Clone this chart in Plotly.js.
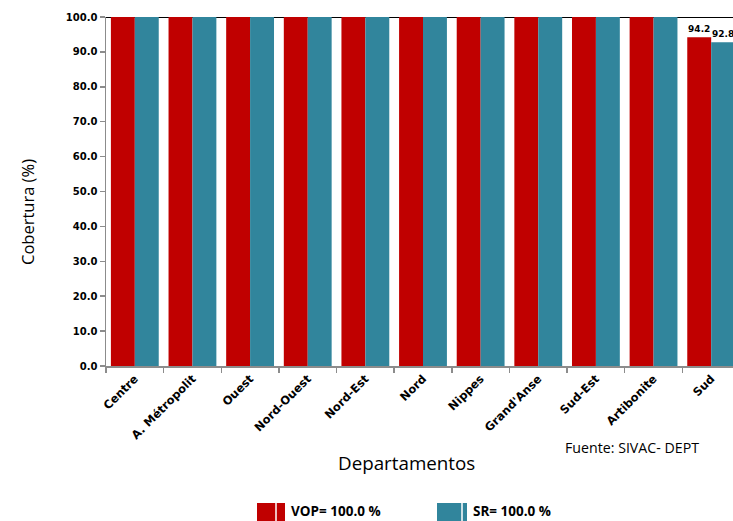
<!DOCTYPE html>
<html><head><meta charset="utf-8">
<script src="https://cdn.plot.ly/plotly-3.0.1.min.js"></script>
<style>html,body{margin:0;padding:0;overflow:hidden;background:#fff}</style>
</head><body>
<div id="chart" style="width:742px;height:521px"></div>
<script>
const departamentos = ["Centre","A. Métropolit","Ouest","Nord-Ouest","Nord-Est","Nord","Nippes","Grand'Anse","Sud-Est","Artibonite","Sud"];
const vop = [100.0,100.0,100.0,100.0,100.0,100.0,100.0,100.0,100.0,100.0,94.2];
const sr  = [100.0,100.0,100.0,100.0,100.0,100.0,100.0,100.0,100.0,100.0,92.8];
const yTicks = [0,10,20,30,40,50,60,70,80,90,100];
const serieNames = ["VOP= 100.0 %","SR= 100.0 %"];
const colors = ["#C00000","#31859C"];

const W = 742, H = 521, ml = 106, mr = 2, mt = 17, mb = 155;
const pw = W - ml - mr, ph = H - mt - mb;
const px = v => (v - ml) / pw;
const py = v => (H - mb - v) / ph;

const tickFontY = {family:"DejaVu Sans", size:10, color:"#000", weight:"bold"};
const tickFontX = {family:"DejaVu Sans", size:11.5, color:"#000", weight:"bold"};
const lblFont = {family:"DejaVu Sans", size:9, color:"#000", weight:"bold"};
const traces = [vop, sr].map((vals, i) => ({
  type:"bar", x:departamentos, y:vals, name:serieNames[i],
  marker:{color:colors[i]},
  text: vals.map(v => v.toFixed(1)), textposition:"outside", cliponaxis:true,
  textfont: lblFont, showlegend:false, hoverinfo:"x+y"
}));

const shapes = [
  {type:"line", xref:"paper", yref:"y", x0:0, x1:1, y0:100, y1:100, line:{color:"#000", width:2}, layer:"below"},
  {type:"rect", xref:"paper", yref:"paper", x0:px(257), x1:px(285), y0:py(521), y1:py(503), fillcolor:colors[0], line:{width:0}},
  {type:"line", xref:"paper", yref:"paper", x0:px(276), x1:px(276), y0:py(521), y1:py(503), line:{color:"#fff", width:1.5}},
  {type:"rect", xref:"paper", yref:"paper", x0:px(437), x1:px(467), y0:py(521), y1:py(503), fillcolor:colors[1], line:{width:0}},
  {type:"line", xref:"paper", yref:"paper", x0:px(462), x1:px(462), y0:py(521), y1:py(503), line:{color:"#fff", width:1.5}}
];

const txtFont = {family:"Open Sans, Noto Sans, sans-serif", color:"#000"};
const annotations = [
  {text:"Departamentos", xref:"paper", yref:"paper", x:px(406), y:py(463), xanchor:"center", yanchor:"middle", showarrow:false, font:{...txtFont, size:18.8}},
  {text:"Cobertura (%)", xref:"paper", yref:"paper", x:px(27), y:py(212), xanchor:"center", yanchor:"middle", textangle:-90, showarrow:false, font:{...txtFont, size:16.5}},
  {text:"Fuente: SIVAC- DEPT", xref:"paper", yref:"paper", x:px(563), y:py(447), xanchor:"left", yanchor:"middle", showarrow:false, font:{...txtFont, size:14.2}},
  {text:"<b>"+serieNames[0]+"</b>", xref:"paper", yref:"paper", x:px(289), y:py(511), xanchor:"left", yanchor:"middle", showarrow:false, font:{...txtFont, size:13.5}},
  {text:"<b>"+serieNames[1]+"</b>", xref:"paper", yref:"paper", x:px(471), y:py(511), xanchor:"left", yanchor:"middle", showarrow:false, font:{...txtFont, size:13.5}}
];

const layout = {
  width:W, height:H,
  margin:{l:ml, r:mr, t:mt, b:mb, pad:0},
  paper_bgcolor:"#fff", plot_bgcolor:"#fff",
  barmode:"group", bargap:0.17, bargroupgap:0,
  showlegend:false,
  xaxis:{
    type:"category", tickangle:-45, tickfont:tickFontX,
    showline:true, linecolor:"#8c8c8c", linewidth:1.5,
    ticks:"outside", tickson:"boundaries", ticklen:5, tickcolor:"#8c8c8c", tickwidth:1.5,
    showgrid:false, zeroline:false, automargin:false
  },
  yaxis:{
    range:[0,100], tickvals:yTicks, ticktext:yTicks.map(v=>v.toFixed(1)),
    tickfont:tickFontY, showline:true, linecolor:"#8c8c8c", linewidth:1.5,
    ticks:"outside", ticklen:5, tickcolor:"#8c8c8c", tickwidth:1.5,
    showgrid:false, zeroline:false, automargin:false
  },
  shapes, annotations
};
Plotly.newPlot("chart", traces, layout, {displayModeBar:false, staticPlot:true});
</script>
</body></html>
